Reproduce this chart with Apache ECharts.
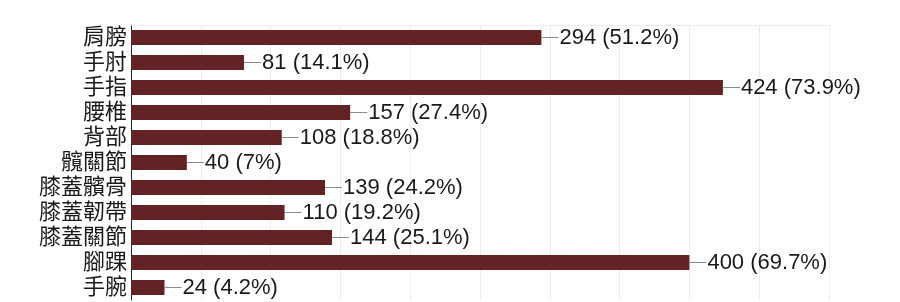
<!DOCTYPE html>
<html>
<head>
<meta charset="utf-8">
<script src="https://cdn.jsdelivr.net/npm/echarts@6/dist/echarts.min.js"></script>
<style>
html,body{margin:0;padding:0;background:#fff;}
#chart{width:900px;height:302px;}
</style>
</head>
<body>
<div id="chart"></div>
<script>
var categories = ['肩膀','手肘','手指','腰椎','背部','髖關節','膝蓋髕骨','膝蓋韌帶','膝蓋關節','腳踝','手腕'];
var counts = [294, 81, 424, 157, 108, 40, 139, 110, 144, 400, 24];
var percents = ['51.2','14.1','73.9','27.4','18.8','7','24.2','19.2','25.1','69.7','4.2'];
var axisMax = 500;
var axisInterval = 50;

var FONT = "'Liberation Sans', 'Noto Sans CJK TC', sans-serif";
var chart = echarts.init(document.getElementById('chart'));
chart.setOption({
  animation: false,
  grid: {left: 131, right: 71, top: 25, bottom: 2},
  xAxis: [{
    type: 'value', min: 0, max: axisMax, interval: axisInterval,
    axisLine: {show: false}, axisTick: {show: false}, axisLabel: {show: false},
    splitLine: {show: true, lineStyle: {color: '#ececec', width: 1}}
  }, {
    type: 'value', position: 'top', min: 0, max: axisMax, interval: axisInterval,
    axisLine: {show: true, lineStyle: {color: '#ececec', width: 1}},
    axisTick: {show: false}, axisLabel: {show: false}, splitLine: {show: false}
  }],
  yAxis: {
    type: 'category', data: categories, inverse: true,
    axisLine: {show: true, lineStyle: {color: '#222', width: 1}},
    axisTick: {show: false},
    axisLabel: {interval: 0, color: '#1a1a1a', fontSize: 22, fontFamily: FONT, margin: 4}
  },
  series: [{
    type: 'bar',
    data: counts,
    barWidth: 15,
    itemStyle: {color: '#632224'},
    label: {
      show: true, position: 'right', distance: 0,
      formatter: function (p) { return '{l|}{t|' + p.value + ' (' + percents[p.dataIndex] + '%)}'; },
      rich: {
        l: {width: 17, height: 1, backgroundColor: '#8a8a8a'},
        t: {fontSize: 22, color: '#1a1a1a', fontFamily: FONT, padding: [0, 0, 0, 1]}
      }
    }
  }]
});
</script>
</body>
</html>
